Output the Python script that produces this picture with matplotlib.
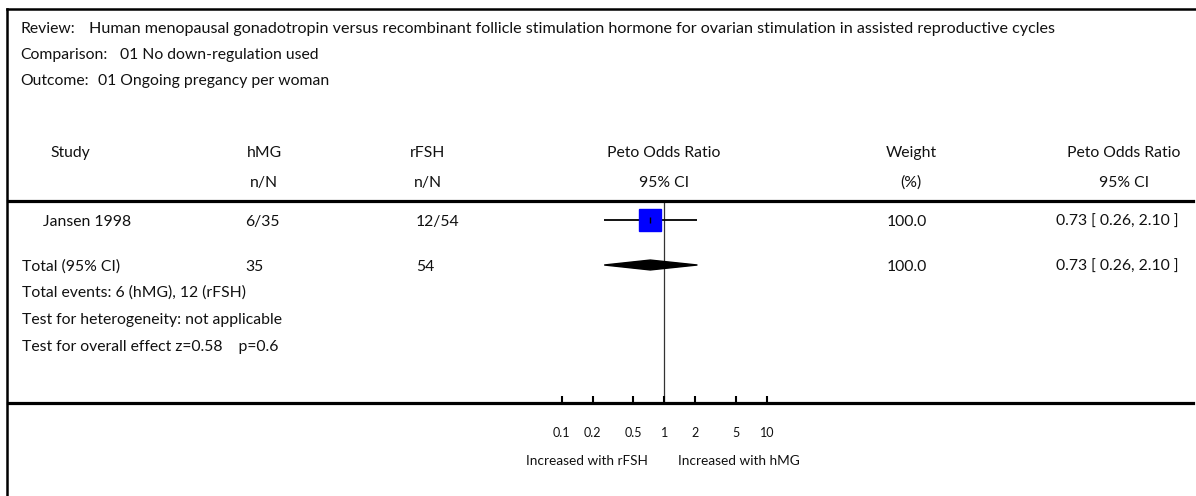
import numpy as np
import matplotlib.pyplot as plt
from matplotlib.lines import Line2D
from matplotlib import transforms

plt.rcParams['font.family'] = ['Lato', 'DejaVu Sans']

# header info
review = "Human menopausal gonadotropin versus recombinant follicle stimulation hormone for ovarian stimulation in assisted reproductive cycles"
comparison = "01 No down-regulation used"
outcome = "01 Ongoing pregancy per woman"

# study rows
studies = ["Jansen 1998"]
hmg = ["6/35"]
rfsh = ["12/54"]
or_est = [0.73]
ci_lo = [0.26]
ci_hi = [2.10]
weights = [100.0]

# pooled result
total_hmg = 35
total_rfsh = 54
total_or = 0.73
total_lo = 0.26
total_hi = 2.10
total_weight = 100.0
events_hmg = 6
events_rfsh = 12
z_value = 0.58
p_value = 0.6

tick_vals = [0.1, 0.2, 0.5, 1, 2, 5, 10]
tick_labels = ["0.1", "0.2", "0.5", "1", "2", "5", "10"]

W, H = 1196, 496
fig = plt.figure(figsize=(W / 100, H / 100), dpi=100)
fig.patch.set_facecolor('white')
tc = '#111111'
fs = 11.3


def px(x, y):
    return x / W, 1 - y / H


def txt(x, y, s, ha='left', size=fs):
    return fig.text(*px(x, y), s, ha=ha, va='center', fontsize=size, color=tc)


# frame (left and top edges only visible)
fig.add_artist(Line2D([px(6.5, 0)[0]] * 2, [px(0, 9)[1], 0], color='black', lw=1.8))
fig.add_artist(Line2D([px(6.5, 0)[0], 1], [px(0, 9)[1]] * 2, color='black', lw=1.8))

# forest axes: top spine = header rule, bottom spine = scale line
ax_l, ax_r, ax_t, ax_b = 8, 1193, 201, 403
ax = fig.add_axes([ax_l / W, 1 - ax_b / H, (ax_r - ax_l) / W, (ax_b - ax_t) / H])
ax.set_xscale('log')
one_px, per_dec = 664.3, 102.7
ax.set_xlim(10 ** ((ax_l - one_px) / per_dec), 10 ** ((ax_r - one_px) / per_dec))
row_px = 45
ax.set_ylim((ax_b - 220) / row_px, -(220 - ax_t) / row_px)
for s in ['left', 'right']:
    ax.spines[s].set_visible(False)
ax.spines['top'].set_linewidth(2.3)
ax.spines['bottom'].set_linewidth(2.3)
ax.set_yticks([])
ax.set_xticks(tick_vals)
ax.set_xticklabels(tick_labels)
ax.minorticks_off()
ax.tick_params(axis='x', direction='in', length=5, width=1.5, pad=17,
               labelsize=9, labelcolor=tc)
ax.patch.set_alpha(0)

# title block, values placed just after their labels
for y, lab, val, gap, vs in [(29, "Review:", review, 10, 11.6),
                             (55, "Comparison:", comparison, 9, fs),
                             (81, "Outcome:", outcome, 7, fs)]:
    t = txt(20, y, lab)
    ax.annotate(val, xy=(1, 0.5), xycoords=t, xytext=(gap, 0), textcoords='offset points',
                ha='left', va='center', fontsize=vs, color=tc)

# column headers
txt(70, 153, "Study", ha='center')
txt(264, 153, "hMG", ha='center')
txt(264, 183, "n/N", ha='center')
txt(428, 153, "rFSH", ha='center')
txt(428, 183, "n/N", ha='center')
txt(664, 153, "Peto Odds Ratio", ha='center')
txt(664, 183, "95% CI", ha='center')
txt(911, 153, "Weight", ha='center')
txt(911, 183, "(%)", ha='center')
txt(1124, 153, "Peto Odds Ratio", ha='center')
txt(1124, 183, "95% CI", ha='center')

ax.axvline(1, color='#333333', lw=0.9, zorder=1)

for i, name in enumerate(studies):
    y = i * 1.0
    ax.hlines(y, ci_lo[i], ci_hi[i], color='black', lw=1.3, zorder=2)
    ax.plot(or_est[i], y, marker='s', markersize=16.5, color='#0000ff',
            markeredgecolor='#0000ff', zorder=3)
    ax.plot(or_est[i], y, marker='|', markersize=5, color='black', mew=1, zorder=4)
    ty = 222 + i * row_px
    txt(43, ty, name)
    txt(245, ty, hmg[i])
    txt(416, ty, rfsh[i])
    txt(887, ty, f"{weights[i]:.1f}")
    txt(1179, ty, f"{or_est[i]:.2f} [ {ci_lo[i]:.2f}, {ci_hi[i]:.2f} ]", ha='right')

# pooled diamond
yt = len(studies) * 1.0
dh = 0.11
ax.fill([total_lo, total_or, total_hi, total_or], [yt, yt - dh, yt, yt + dh],
        color='black', zorder=3)
ty = 267
txt(22, ty, "Total (95% CI)")
txt(245, ty, str(total_hmg))
txt(416, ty, str(total_rfsh))
txt(887, ty, f"{total_weight:.1f}")
txt(1179, ty, f"{total_or:.2f} [ {total_lo:.2f}, {total_hi:.2f} ]", ha='right')
txt(22, 293, f"Total events: {events_hmg} (hMG), {events_rfsh} (rFSH)")
txt(22, 320, "Test for heterogeneity: not applicable")
txt(22, 347, f"Test for overall effect z={z_value:.2f}    p={p_value}")

# direction labels under the scale
bt = transforms.blended_transform_factory(ax.transData, fig.transFigure)
ax.annotate("Increased with rFSH", xy=(1, px(0, 461)[1]), xycoords=bt,
            xytext=(-12, 0), textcoords='offset points', ha='right', va='center',
            fontsize=9.8, color=tc)
ax.annotate("Increased with hMG", xy=(1, px(0, 461)[1]), xycoords=bt,
            xytext=(10, 0), textcoords='offset points', ha='left', va='center',
            fontsize=9.8, color=tc)

fig.savefig("out.png", dpi=100, facecolor='white')
